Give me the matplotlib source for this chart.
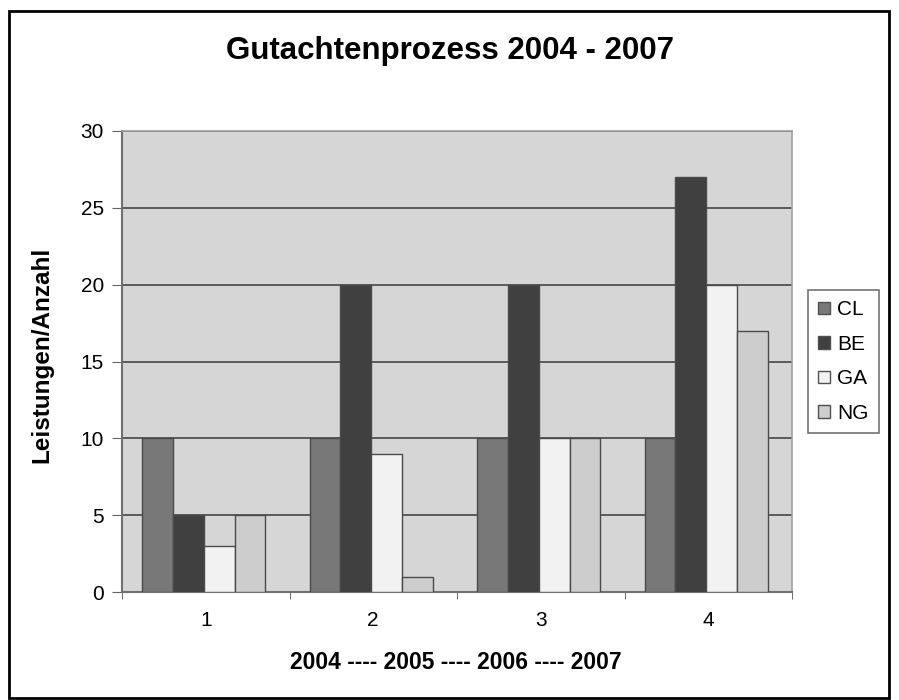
import matplotlib
matplotlib.use("Agg")
import matplotlib.pyplot as plt
import numpy as np
from matplotlib.patches import Rectangle

categories = ["1", "2", "3", "4"]
series_names = ["CL", "BE", "GA", "NG"]
cl = [10, 10, 10, 10]
be = [5, 20, 20, 27]
ga = [3, 9, 10, 20]
ng = [5, 1, 10, 17]
colors = ["#787878", "#404040", "#f2f2f2", "#cdcdcd"]
yticks = [0, 5, 10, 15, 20, 25, 30]

plt.rcParams['font.family'] = ['Liberation Sans', 'DejaVu Sans']

fig = plt.figure(figsize=(8.99, 7.0), dpi=100)
ax = fig.add_axes([122/899, 1-592/700, (792-122)/899, (592-131)/700])
ax.set_facecolor("#d6d6d6")

x = np.arange(len(categories))
w = 0.184
for i, (vals, c, name) in enumerate(zip([cl, be, ga, ng], colors, series_names)):
    ax.bar(x + (i - 1.5) * w - 0.012, vals, width=w, color=c, edgecolor="#4a4a4a",
           linewidth=1.0, label=name, zorder=3)

ax.set_ylim(0, 30)
ax.set_xlim(-0.5, 3.5)
ax.set_yticks(yticks)
ax.set_yticklabels([str(t) for t in yticks], fontsize=15)
ax.yaxis.grid(True, color="#505050", linewidth=1.3, zorder=1)
ax.set_axisbelow(True)

ax.set_xticks(x)
ax.set_xticklabels(categories, fontsize=15)
ax.tick_params(axis='x', which='major', length=0, pad=14)
ax.set_xticks(np.arange(-0.5, 4.0, 1.0), minor=True)
ax.tick_params(axis='x', which='minor', length=5, direction='out', color="#555555")
ax.tick_params(axis='y', length=7, direction='out', color="#666666", pad=6)

for s in ["left", "bottom"]:
    ax.spines[s].set_color("#707070")
    ax.spines[s].set_linewidth(1.5)
for s in ["top", "right"]:
    ax.spines[s].set_color("#a0a0a0")
    ax.spines[s].set_linewidth(1.2)

fig.text(42/899, 1-355/700, "Leistungen/Anzahl", fontsize=17.5, fontweight="bold",
         rotation=90, ha="center", va="center")
fig.text(456/899, 1-669/700, "2004 ---- 2005 ---- 2006 ---- 2007", fontsize=16.5,
         fontweight="bold", ha="center", va="baseline")
fig.text(450/899, 1-59/700, "Gutachtenprozess 2004 - 2007", fontsize=22.5, fontweight="bold",
         ha="center", va="baseline")

leg = ax.legend(loc="upper left", bbox_to_anchor=(808/899, 1-290/700),
                bbox_transform=fig.transFigure, fontsize=15, frameon=True,
                fancybox=False, handlelength=0.55, handleheight=0.55,
                handletextpad=0.35, labelspacing=0.74, borderpad=0.5, borderaxespad=0)
leg.get_frame().set_edgecolor("#505050")
leg.get_frame().set_linewidth(1.2)
for h in leg.legend_handles:
    h.set_edgecolor("#505050")

fig.patches.append(Rectangle((9/899, 2/700), 880/899, 687/700, transform=fig.transFigure,
                             fill=False, edgecolor="black", linewidth=2.0))

fig.savefig("out.png", dpi=100, facecolor="white")
